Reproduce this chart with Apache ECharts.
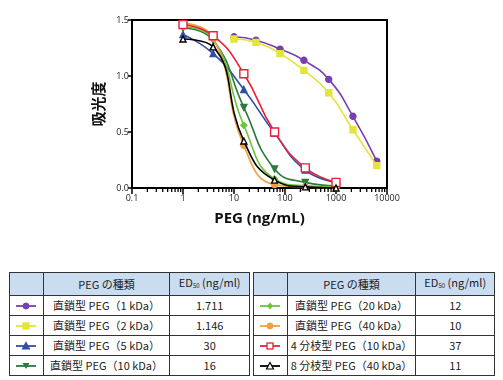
<!DOCTYPE html>
<html><head><meta charset="utf-8">
<script src="https://cdn.jsdelivr.net/npm/echarts@6/dist/echarts.min.js"></script>
<style>
html,body{margin:0;padding:0;background:#fff;}
#wrap{position:relative;width:503px;height:380px;overflow:hidden;}
#chart{position:absolute;left:0;top:0;width:503px;height:250px;}
table{position:absolute;top:272px;border-collapse:collapse;font-family:"Noto Sans CJK JP","Noto Sans",sans-serif;font-size:11px;color:#222;}
td{border:1px solid #333;text-align:center;padding:0;height:19px;line-height:19px;white-space:nowrap;}
tr.h td{background:#c9dcf0;height:18px;line-height:18px;}
sub{font-size:6px;vertical-align:-1px;}
svg{display:block;margin:0 auto;}
</style></head><body>
<div id="wrap"><div id="chart"></div>
<table id="t1" style="left:9px;width:241px;"></table>
<table id="t2" style="left:253px;width:242px;"></table>
</div>
<script>
// concentrations (ng/mL)
const conc4 = [1, 3.9, 15.6, 62.5, 250, 1000];
const conc3 = [10, 27, 80, 235, 720, 2150, 6300];
// absorbance values
const peg1k   = [1.35, 1.32, 1.24, 1.14, 0.97, 0.64, 0.24];
const peg2k   = [1.33, 1.30, 1.20, 1.05, 0.85, 0.52, 0.20];
const peg5k   = [1.37, 1.20, 0.88, 0.49, 0.16, 0.05];
const peg10k  = [1.43, 1.32, 0.72, 0.17, 0.05, 0.02];
const peg20k  = [1.44, 1.33, 0.56, 0.08, 0.02, 0.01];
const peg40k  = [1.47, 1.34, 0.38, 0.03, 0.01, 0.00];
const arm4    = [1.46, 1.36, 1.02, 0.50, 0.18, 0.05];
const arm8    = [1.33, 1.26, 0.42, 0.07, 0.01, 0.00];
const names = ['直鎖型 PEG（1 kDa）','直鎖型 PEG（2 kDa）','直鎖型 PEG（5 kDa）','直鎖型 PEG（10 kDa）','直鎖型 PEG（20 kDa）','直鎖型 PEG（40 kDa）','4 分枝型 PEG（10 kDa）','8 分枝型 PEG（40 kDa）'];
const ed50 = ['1.711','1.146','30','16','12','10','37','11'];
const xTicks = [0.1, 1, 10, 100, 1000, 10000];
const xMinor = [0.2,0.3,0.4,0.5,0.6,0.7,0.8,0.9,2,3,4,5,6,7,8,9,20,30,40,50,60,70,80,90,200,300,400,500,600,700,800,900,2000,3000,4000,5000,6000,7000,8000,9000];

const styles = [
  {c:'#7a3fae', sym:'circle', fill:'#7a3fae'},
  {c:'#e4e43a', sym:'rect', fill:'#e4e43a'},
  {c:'#2f4fa6', sym:'triangle', fill:'#2f4fa6'},
  {c:'#2a7a3c', sym:'triangle', fill:'#2a7a3c', rot:180},
  {c:'#6cc43a', sym:'diamond', fill:'#6cc43a'},
  {c:'#f0a040', sym:'circle', fill:'#f0a040'},
  {c:'#e8203c', sym:'rect', fill:'#ffffff'},
  {c:'#000000', sym:'triangle', fill:'#ffffff'}
];
const sizes = [6,6,6,6,6,6,8,6];
const sets = [[conc3,peg1k],[conc3,peg2k],[conc4,peg5k],[conc4,peg10k],[conc4,peg20k],[conc4,peg40k],[conc4,arm4],[conc4,arm8]];

const series = sets.map((s,i)=>({
  type:'line', name:names[i],
  data:s[0].map((x,k)=>[x,s[1][k]]),
  smooth:0.5,
  symbol:styles[i].sym, symbolSize:sizes[i], symbolRotate:styles[i].rot||0,
  lineStyle:{color:styles[i].c,width:1.6},
  itemStyle:{color:styles[i].fill,borderColor:styles[i].c,borderWidth:1.4},
  z: 2+i, animation:false
}));
// minor ticks on the log axis, placed through the axis scale
series.push({
  type:'custom', silent:true, clip:false, z:20,
  encode:{x:0,y:1},
  data:xMinor.map(v=>[v,0]),
  renderItem:(params,api)=>{
    const p=api.coord([api.value(0),api.value(1)]);
    return {type:'line',shape:{x1:p[0],y1:p[1],x2:p[0],y2:p[1]+4},style:{stroke:'#000',lineWidth:1.3}};
  }
});

const chart = echarts.init(document.getElementById('chart'));
chart.setOption({
  animation:false,
  grid:{left:132,top:20,width:255,height:168,show:true,borderColor:'#000',borderWidth:2,backgroundColor:'transparent'},
  xAxis:{
    type:'log', logBase:10, min:0.1, max:10000,
    name:'PEG (ng/mL)', nameLocation:'middle', nameGap:23,
    nameTextStyle:{fontSize:15,fontWeight:'bold',color:'#111',fontFamily:'"Open Sans","Noto Sans",sans-serif'},
    axisLine:{lineStyle:{color:'#000',width:2}},
    axisTick:{show:true,length:6,lineStyle:{width:1.5,color:'#000'}},
    axisLabel:{fontSize:9,color:'#222',margin:6,formatter:v=>String(v),fontFamily:'"Open Sans",sans-serif'},
    splitLine:{show:false}
  },
  yAxis:{
    type:'value', min:0, max:1.5, interval:0.5,
    name:'吸光度', nameLocation:'middle', nameGap:26, nameRotate:90,
    nameTextStyle:{fontSize:15,fontWeight:'bold',color:'#111',fontFamily:'"Noto Sans CJK JP",sans-serif'},
    axisLine:{show:true,lineStyle:{color:'#000',width:2}},
    axisTick:{show:true,length:4,lineStyle:{width:1.5,color:'#000'}},
    axisLabel:{fontSize:9,color:'#222',margin:3,formatter:v=>v.toFixed(1),fontFamily:'"Open Sans",sans-serif'},
    splitLine:{show:false}
  },
  series: series
});

function icon(i){
  const s=styles[i];
  let m='';
  const cx=11, cy=5;
  if(s.sym==='circle') m=`<circle cx="${cx}" cy="${cy}" r="3" fill="${s.fill}" stroke="${s.c}" stroke-width="1"/>`;
  else if(s.sym==='rect') m=`<rect x="${cx-3}" y="${cy-3}" width="6" height="6" fill="${s.fill}" stroke="${s.c}" stroke-width="1.3"/>`;
  else if(s.sym==='diamond') m=`<polygon points="${cx},${cy-3.5} ${cx+3},${cy} ${cx},${cy+3.5} ${cx-3},${cy}" fill="${s.fill}"/>`;
  else if(s.rot) m=`<polygon points="${cx-3.5},${cy-3} ${cx+3.5},${cy-3} ${cx},${cy+3}" fill="${s.fill}"/>`;
  else m=`<polygon points="${cx-3.5},${cy+3} ${cx+3.5},${cy+3} ${cx},${cy-3.5}" fill="${s.fill}" stroke="${s.c}" stroke-width="1.2"/>`;
  return `<svg width="22" height="10"><line x1="1" y1="5" x2="21" y2="5" stroke="${s.c}" stroke-width="1.8"/>${m}</svg>`;
}
function build(id, start, w){
  let h=`<colgroup><col style="width:${w[0]}px"><col style="width:${w[1]}px"><col style="width:${w[2]}px"></colgroup>`;
  h+=`<tr class="h"><td></td><td>PEG の種類</td><td>ED<sub>50</sub> (ng/ml)</td></tr>`;
  for(let i=start;i<start+4;i++) h+=`<tr><td>${icon(i)}</td><td>${names[i]}</td><td>${ed50[i]}</td></tr>`;
  document.getElementById(id).innerHTML=h;
}
build('t1',0,[34,127,80]);
build('t2',4,[34,129,79]);
</script>
</body></html>
